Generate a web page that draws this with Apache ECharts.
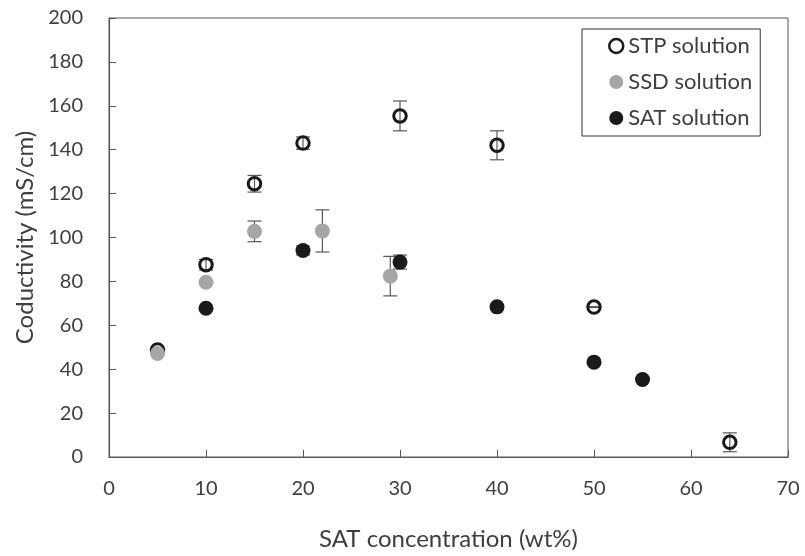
<!DOCTYPE html>
<html>
<head>
<meta charset="utf-8">
<script src="https://cdn.jsdelivr.net/npm/echarts@6/dist/echarts.min.js"></script>
<style>
  html, body { margin: 0; padding: 0; background: #fff; }
  #chart { width: 805px; height: 556px; }
</style>
</head>
<body>
<div id="chart"></div>
<script>
// SAT concentration (wt%) and conductivity (mS/cm) with ± error
const stpX = [5, 10, 15, 20, 30, 40, 50, 64];
const stpY = [48.8, 87.6, 124.5, 143, 155.4, 142, 68.3, 6.7];
const stpErr = [0, 2.4, 3.8, 2.8, 6.8, 6.6, 0.2, 4.3];

const ssdX = [5, 10, 15, 22, 29];
const ssdY = [47.2, 79.6, 102.8, 103, 82.4];
const ssdErr = [0, 0, 4.7, 9.6, 9];

const satX = [10, 20, 30, 40, 50, 55];
const satY = [67.8, 94.1, 88.8, 68.4, 43.2, 35.3];
const satErr = [0, 2, 3.2, 0, 0, 0];

const xTicks = [0, 10, 20, 30, 40, 50, 60, 70];
const yTicks = [0, 20, 40, 60, 80, 100, 120, 140, 160, 180, 200];

const FONT = 'Lato';
const TEXT = '#404040';
const AXIS = '#595959';

function points(xs, ys) { return xs.map((x, i) => [x, ys[i]]); }
function bars(xs, ys, es) {
  return xs.map((x, i) => [x, ys[i], es[i]]).filter(d => d[2] > 0);
}

function errorBarRender(params, api) {
  const x = api.value(0), y = api.value(1), e = api.value(2);
  const top = api.coord([x, y + e]);
  const bot = api.coord([x, y - e]);
  const half = 7;
  const style = { stroke: AXIS, lineWidth: 1.2, fill: null };
  return {
    type: 'group',
    children: [
      { type: 'line', shape: { x1: top[0], y1: top[1], x2: bot[0], y2: bot[1] }, style },
      { type: 'line', shape: { x1: top[0] - half, y1: top[1], x2: top[0] + half, y2: top[1] }, style },
      { type: 'line', shape: { x1: bot[0] - half, y1: bot[1], x2: bot[0] + half, y2: bot[1] }, style }
    ]
  };
}

const chart = echarts.init(document.getElementById('chart'), null, { renderer: 'canvas' });

chart.setOption({
  animation: false,
  backgroundColor: '#ffffff',
  textStyle: { fontFamily: FONT, color: TEXT },
  grid: {
    left: 109, right: 17, top: 18, bottom: 98.5,
    show: true, borderColor: AXIS, borderWidth: 1
  },
  xAxis: {
    type: 'value', min: xTicks[0], max: xTicks[xTicks.length - 1], interval: 10,
    name: 'SAT concentration (wt%)', nameLocation: 'middle', nameGap: 70,
    nameTextStyle: { fontSize: 24, color: TEXT, fontFamily: FONT },
    axisLine: { show: true, onZero: false, lineStyle: { color: AXIS, width: 1.2 } },
    axisTick: { show: true, inside: true, length: 7, lineStyle: { color: AXIS } },
    axisLabel: { fontSize: 20, color: TEXT, margin: 22, fontFamily: FONT },
    splitLine: { show: false }
  },
  yAxis: {
    type: 'value', min: yTicks[0], max: yTicks[yTicks.length - 1], interval: 20,
    name: 'Coductivity (mS/cm)', nameLocation: 'middle', nameGap: 72, nameRotate: 90,
    nameTextStyle: { fontSize: 24, color: TEXT, fontFamily: FONT },
    axisLine: { show: true, onZero: false, lineStyle: { color: AXIS, width: 1.2 } },
    axisTick: { show: true, inside: true, length: 7, lineStyle: { color: AXIS } },
    axisLabel: { fontSize: 20, color: TEXT, margin: 26, fontFamily: FONT },
    splitLine: { show: false }
  },
  legend: {
    orient: 'vertical', left: 582, top: 29,
    padding: [5, 8, 6, 26],
    itemGap: 12, itemWidth: 14, itemHeight: 14,
    borderColor: '#333', borderWidth: 1, backgroundColor: '#fff',
    textStyle: { fontSize: 22, color: TEXT, fontFamily: FONT, lineHeight: 24 },
    data: [
      { name: 'STP solution', icon: 'circle', itemStyle: { color: '#fff', borderColor: '#1a1a1a', borderWidth: 2.5 } },
      { name: 'SSD solution', icon: 'circle', itemStyle: { color: '#a6a6a6' } },
      { name: 'SAT solution', icon: 'circle', itemStyle: { color: '#1a1a1a' } }
    ]
  },
  series: [
    {
      name: 'STP error', type: 'custom', renderItem: errorBarRender,
      data: bars(stpX, stpY, stpErr), z: 3, silent: true
    },
    {
      name: 'SSD error', type: 'custom', renderItem: errorBarRender,
      data: bars(ssdX, ssdY, ssdErr), z: 3, silent: true
    },
    {
      name: 'SAT error', type: 'custom', renderItem: errorBarRender,
      data: bars(satX, satY, satErr), z: 3, silent: true
    },
    {
      name: 'STP solution', type: 'scatter', symbol: 'circle', symbolSize: 12.5,
      data: points(stpX, stpY), z: 4,
      itemStyle: { color: 'transparent', borderColor: '#1a1a1a', borderWidth: 3, opacity: 1 }
    },
    {
      name: 'SSD solution', type: 'scatter', symbol: 'circle', symbolSize: 15,
      data: points(ssdX, ssdY), z: 5,
      itemStyle: { color: '#a6a6a6', opacity: 1 }
    },
    {
      name: 'SAT solution', type: 'scatter', symbol: 'circle', symbolSize: 15,
      data: points(satX, satY), z: 6,
      itemStyle: { color: '#1a1a1a', opacity: 1 }
    }
  ]
});
</script>
</body>
</html>
